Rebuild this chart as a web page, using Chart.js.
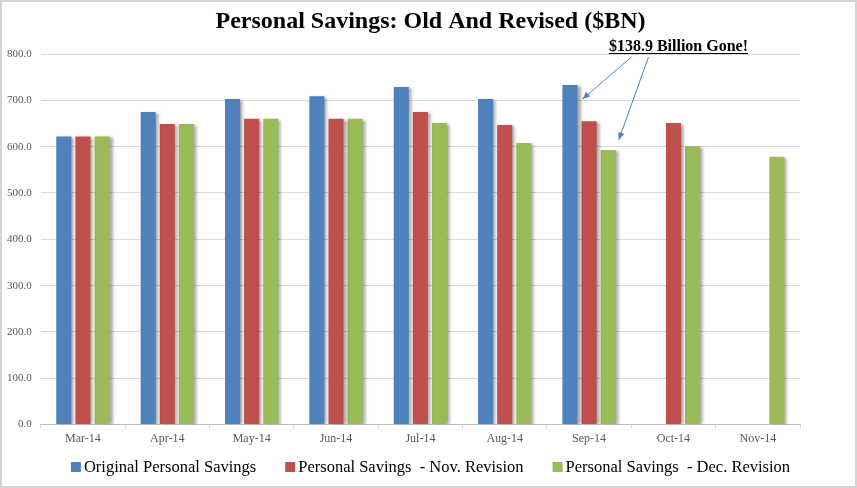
<!DOCTYPE html>
<html>
<head>
<meta charset="utf-8">
<script src="https://cdn.jsdelivr.net/npm/chart.js@4.4.1/dist/chart.umd.min.js"></script>
<style>
    html, body { margin: 0; padding: 0; background: #fff; }
    #wrap { width: 857px; height: 488px; box-sizing: border-box; border: 2px solid #d4d4d4; }
</style>
</head>
<body>
<div id="wrap"><canvas id="savingsChart" width="853" height="484"></canvas></div>
<script>
    const months = ['Mar-14', 'Apr-14', 'May-14', 'Jun-14', 'Jul-14', 'Aug-14', 'Sep-14', 'Oct-14', 'Nov-14'];
    const originalSavings = [622, 675, 703, 709, 729, 703, 733, null, null];
    const novRevision = [622, 649, 660, 660, 675, 647, 655, 651, null];
    const decRevision = [622, 649, 660, 660, 651, 608, 593, 601, 578];
    const yTicks = [0, 100, 200, 300, 400, 500, 600, 700, 800];

    const serif = "'Liberation Serif', 'Times New Roman', serif";

    // тень справа от столбиков, как в Excel
    const barShadow = {
        id: 'barShadow',
        beforeDatasetsDraw(chart) {
            const ctx = chart.ctx;
            ctx.save();
            ctx.shadowColor = 'rgba(0, 0, 0, 0.35)';
            ctx.shadowOffsetX = 3;
            ctx.shadowOffsetY = 1;
            ctx.shadowBlur = 3;
        },
        afterDatasetsDraw(chart) {
            chart.ctx.restore();
        }
    };

    const chartTitle = {
        id: 'chartTitle',
        afterDraw(chart) {
            const ctx = chart.ctx;
            ctx.save();
            ctx.font = 'bold 24px ' + serif;
            ctx.fillStyle = '#000';
            ctx.textAlign = 'center';
            ctx.fillText('Personal Savings: Old And Revised ($BN)', chart.width / 2 + 2, 26);
            ctx.restore();
        }
    };

    // легенда внизу: квадратик + подпись, с широкими промежутками
    const bottomLegend = {
        id: 'bottomLegend',
        afterDraw(chart) {
            const ctx = chart.ctx;
            const sets = chart.data.datasets;
            const box = 10, gap = 3, spacing = 29, y = 465;
            ctx.save();
            ctx.font = '16.5px ' + serif;
            ctx.textBaseline = 'middle';
            const widths = sets.map(ds => box + gap + ctx.measureText(ds.label).width);
            const total = widths.reduce((a, b) => a + b, 0) + spacing * (sets.length - 1);
            let x = chart.width / 2 + 2 - total / 2;
            sets.forEach((ds, i) => {
                ctx.fillStyle = ds.backgroundColor;
                ctx.fillRect(x, y - box / 2, box, box);
                ctx.fillStyle = '#000';
                ctx.fillText(ds.label, x + box + gap, y + 1);
                x += widths[i] + spacing;
            });
            ctx.restore();
        }
    };

    function drawArrow(ctx, x1, y1, x2, y2) {
        const ang = Math.atan2(y2 - y1, x2 - x1);
        ctx.beginPath();
        ctx.moveTo(x1, y1);
        ctx.lineTo(x2, y2);
        ctx.stroke();
        ctx.beginPath();
        ctx.moveTo(x2, y2);
        ctx.lineTo(x2 - 8 * Math.cos(ang - 0.4), y2 - 8 * Math.sin(ang - 0.4));
        ctx.lineTo(x2 - 8 * Math.cos(ang + 0.4), y2 - 8 * Math.sin(ang + 0.4));
        ctx.closePath();
        ctx.fill();
    }

    // подпись "$138.9 Billion Gone!" со стрелками к сентябрьским столбикам
    const goneNote = {
        id: 'goneNote',
        afterDraw(chart) {
            const ctx = chart.ctx;
            const xs = chart.scales.x;
            const area = chart.chartArea;
            const label = '$138.9 Billion Gone!';
            const cx = xs.getPixelForValue(7) + 5;
            const cy = area.top - 3;

            ctx.save();
            ctx.font = 'bold 16px ' + serif;
            ctx.fillStyle = '#000';
            ctx.textAlign = 'center';
            ctx.fillText(label, cx, cy);
            const w = ctx.measureText(label).width;
            ctx.fillRect(cx - w / 2, cy + 2, w, 1);

            const blue = chart.getDatasetMeta(0).data[6];
            const green = chart.getDatasetMeta(2).data[6];
            ctx.strokeStyle = '#4F81BD';
            ctx.fillStyle = '#4F81BD';
            ctx.lineWidth = 1;
            drawArrow(ctx, cx - 47, cy + 6, blue.x + blue.width / 2 + 5, blue.y + 14);
            drawArrow(ctx, cx - 30, cy + 6, green.x + green.width / 2 + 3, green.y - 10);
            ctx.restore();
        }
    };

    const data = {
        labels: months,
        datasets: [
            {label: 'Original Personal Savings', data: originalSavings, backgroundColor: '#4F81BD'},
            {label: 'Personal Savings  - Nov. Revision', data: novRevision, backgroundColor: '#C0504D'},
            {label: 'Personal Savings  - Dec. Revision', data: decRevision, backgroundColor: '#9BBB59'}
        ]
    };

    const config = {
        type: 'bar',
        data: data,
        options: {
            responsive: false,
            animation: false,
            datasets: {
                bar: {categoryPercentage: 0.68, barPercentage: 0.79}
            },
            layout: {padding: {top: 52, right: 55, left: -4, bottom: 37}},
            scales: {
                x: {
                    grid: {display: true, drawOnChartArea: false, tickLength: 4, color: '#d9d9d9'},
                    border: {display: true, color: '#bfbfbf'},
                    ticks: {color: '#595959', font: {family: serif, size: 12}, padding: 3}
                },
                y: {
                    min: 0,
                    max: 800,
                    afterBuildTicks(axis) {
                        axis.ticks = yTicks.map(v => ({value: v}));
                    },
                    grid: {color: '#d9d9d9', drawTicks: false},
                    border: {display: false},
                    ticks: {
                        color: '#595959',
                        font: {family: serif, size: 11},
                        padding: 9,
                        callback: v => v.toFixed(1)
                    }
                }
            },
            plugins: {
                legend: {display: false},
                tooltip: {enabled: false}
            }
        },
        plugins: [barShadow, chartTitle, bottomLegend, goneNote]
    };

    new Chart(document.getElementById('savingsChart'), config);
</script>
</body>
</html>
